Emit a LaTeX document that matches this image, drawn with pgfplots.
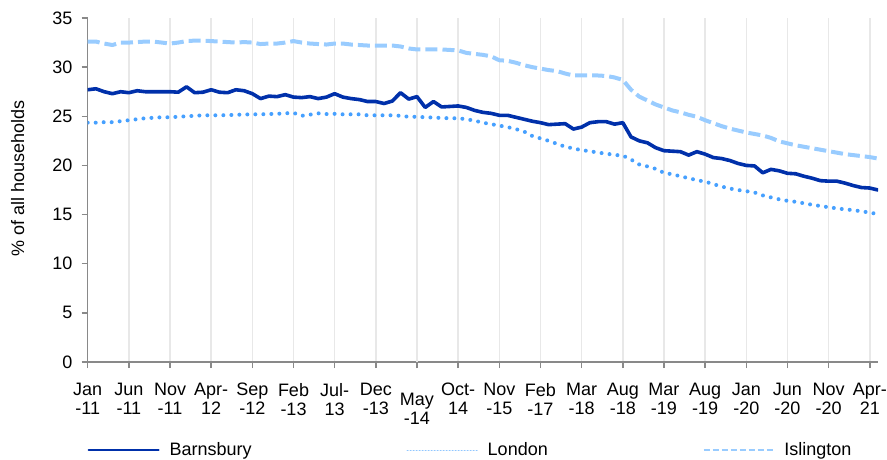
\documentclass[border=0pt]{standalone}
\usepackage{fontspec}
\setmainfont{Liberation Sans}
\usepackage{pgfplots}
\pgfplotsset{compat=1.18}
\usepackage{pgfplotstable}
\definecolor{barn}{RGB}{0,48,170}
\definecolor{lond}{RGB}{70,160,255}
\definecolor{isl}{RGB}{153,204,255}
\definecolor{axgray}{RGB}{137,137,137}
\definecolor{gridgray}{RGB}{232,232,232}

\pgfplotstableread{
x b l i
0 27.7 24.35 32.6
1 27.8 24.35 32.6
2 27.5 24.4 32.4
3 27.3 24.4 32.25
4 27.5 24.5 32.5
5 27.4 24.6 32.5
6 27.6 24.7 32.55
7 27.5 24.8 32.6
8 27.5 24.85 32.6
9 27.5 24.9 32.5
10 27.5 24.9 32.4
11 27.45 24.95 32.5
12 28.0 25.0 32.65
13 27.4 25.05 32.7
14 27.45 25.1 32.7
15 27.7 25.1 32.65
16 27.45 25.1 32.6
17 27.4 25.12 32.55
18 27.7 25.15 32.5
19 27.6 25.18 32.55
20 27.3 25.2 32.5
21 26.8 25.2 32.35
22 27.05 25.23 32.4
23 27.0 25.25 32.4
24 27.2 25.3 32.5
25 26.95 25.35 32.65
26 26.9 25.05 32.5
27 27.0 25.17 32.4
28 26.8 25.3 32.35
29 26.95 25.23 32.3
30 27.3 25.25 32.4
31 26.95 25.2 32.4
32 26.8 25.2 32.3
33 26.7 25.2 32.25
34 26.5 25.1 32.2
35 26.5 25.1 32.2
36 26.3 25.1 32.2
37 26.55 25.1 32.2
38 27.4 25.05 32.1
39 26.75 24.95 31.9
40 27.0 24.95 31.8
41 25.9 24.9 31.8
42 26.5 24.87 31.8
43 25.95 24.83 31.8
44 26.0 24.8 31.75
45 26.05 24.8 31.7
46 25.9 24.7 31.45
47 25.6 24.55 31.35
48 25.4 24.35 31.25
49 25.3 24.2 31.1
50 25.1 24.05 30.7
51 25.1 23.9 30.65
52 24.9 23.7 30.45
53 24.7 23.45 30.2
54 24.5 23.0 30.0
55 24.35 22.75 29.85
56 24.15 22.5 29.7
57 24.2 22.2 29.6
58 24.25 21.9 29.35
59 23.7 21.73 29.15
60 23.9 21.55 29.15
61 24.35 21.45 29.15
62 24.45 21.3 29.15
63 24.45 21.2 29.1
64 24.2 21.07 28.95
65 24.35 21.0 28.7
66 22.9 20.6 27.7
67 22.5 20.1 27.0
68 22.3 19.9 26.6
69 21.8 19.65 26.2
70 21.5 19.25 25.9
71 21.45 19.1 25.6
72 21.4 18.9 25.4
73 21.05 18.7 25.15
74 21.4 18.5 24.95
75 21.15 18.35 24.6
76 20.8 18.1 24.3
77 20.7 17.85 24.0
78 20.5 17.65 23.75
79 20.2 17.5 23.55
80 20.0 17.38 23.35
81 19.95 17.25 23.2
82 19.25 16.95 23.05
83 19.6 16.75 22.8
84 19.45 16.55 22.45
85 19.2 16.4 22.25
86 19.15 16.3 22.05
87 18.9 16.15 21.9
88 18.7 16.0 21.75
89 18.45 15.87 21.6
90 18.4 15.75 21.45
91 18.4 15.63 21.3
92 18.2 15.53 21.15
93 17.95 15.45 21.05
94 17.75 15.33 20.95
95 17.7 15.2 20.85
96 17.5 15.05 20.7
}\data

\begin{document}
\fontsize{18}{19}\selectfont
\begin{tikzpicture}
\useasboundingbox (0,0) rectangle (887pt,459pt);
\begin{axis}[
  at={(87.7pt,97pt)}, anchor=south west,
  scale only axis, width=790.3pt, height=344pt,
  xmin=0, xmax=96, ymin=0, ymax=35,
  axis lines=left,
  axis line style={-, axgray, line width=1.5pt},
  xtick={0,5,...,95},
  xticklabels={Jan\\-11,Jun\\-11,Nov\\-11,Apr-\\12,Sep\\-12,Feb\\-13,Jul-\\13,Dec\\-13,{},Oct-\\14,Nov\\-15,Feb\\-17,Mar\\-18,Aug\\-18,Mar\\-19,Aug\\-19,Jan\\-20,Jun\\-20,Nov\\-20,Apr-\\21},
  extra x ticks={40},
  extra x tick labels={May\\-14},
  extra x tick style={xticklabel style={yshift=-10pt}},
  ytick={0,5,...,35},
  tick align=outside,
  major tick length=6pt,
  tick style={axgray, line width=1.5pt},
  xmajorgrids,
  grid style={gridgray, line width=1.5pt},
  xticklabel style={align=center, yshift=-9pt, font=\fontsize{18}{19}\selectfont},
  yticklabel style={/pgf/number format/assume math mode=true, xshift=-3pt, font=\fontsize{18}{19}\selectfont},
  ylabel={\% of all households},
  ylabel style={at={(axis description cs:-0.0886,0.533)}, rotate=0, anchor=center, font=\fontsize{18}{19}\selectfont},
  legend style={at={(axis description cs:0,0)}, anchor=west, yshift=-88pt, draw=none, fill=none,
    inner sep=0pt, outer sep=0pt, legend columns=3, font=\fontsize{18}{19}\selectfont,
    /tikz/every odd column/.append style={column sep=8pt},
    /tikz/every even column/.append style={column sep=153pt}},
  legend cell align=left,
  line join=round,
]
\addplot[barn, line width=3.6pt, line cap=round,
  legend image code/.code={\draw[barn, line width=2pt] (0pt,0pt) -- (70pt,0pt);}]
  table[x=x, y=b] {\data};
\addlegendentry{Barnsbury}
\addplot[lond, line width=4pt, line cap=round, dash pattern=on 0pt off 8pt,
  legend image code/.code={\draw[lond!60, line width=1pt, dash pattern=on 1pt off 2pt] (0pt,0pt) -- (70pt,0pt);}]
  table[x=x, y=l] {\data};
\addlegendentry{London}
\addplot[isl, line width=4pt, dash pattern=on 12pt off 5pt,
  legend image code/.code={\draw[isl, line width=1.5pt, dash pattern=on 6pt off 3pt] (0pt,0pt) -- (70pt,0pt);}]
  table[x=x, y=i] {\data};
\addlegendentry{Islington}
\end{axis}
\end{tikzpicture}
\end{document}
